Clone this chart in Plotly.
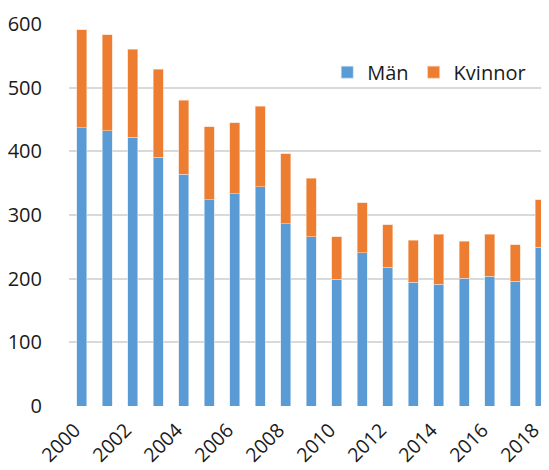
import plotly.graph_objects as go

years = [str(y) for y in range(2000, 2019)]
man = [437, 432, 422, 391, 364, 324, 333, 344, 286, 266, 199, 241, 218, 194, 191, 201, 204, 196, 249]
kvinnor = [154, 151, 138, 138, 116, 115, 112, 127, 110, 92, 67, 78, 67, 66, 79, 58, 66, 57, 75]
tick_years = [str(y) for y in range(2000, 2019, 2)]
y_ticks = [0, 100, 200, 300, 400, 500, 600]

fig = go.Figure()
fig.add_trace(go.Bar(x=years, y=man, name="Män", marker=dict(color="#5B9BD5", line=dict(color="#D6E6F5", width=0.6))))
fig.add_trace(go.Bar(x=years, y=kvinnor, name="Kvinnor", marker=dict(color="#ED7D31", line=dict(color="#F8D3BA", width=0.6))))

fig.update_layout(
    barmode="stack",
    bargap=0.6,
    width=541, height=462,
    margin=dict(l=61, r=0, t=16, b=64, autoexpand=False),
    plot_bgcolor="white", paper_bgcolor="white",
    font=dict(family="Open Sans", size=20, color="#1a1a1a"),
    showlegend=True,
    legend=dict(orientation="h", x=0.538, y=0.874, xanchor="left", yanchor="middle",
                font=dict(size=20), bgcolor="rgba(0,0,0,0)", itemwidth=30, traceorder="normal"),
    xaxis=dict(type="category", tickvals=tick_years, ticktext=tick_years, tickangle=-45,
               range=[-0.5, 18.33], ticks="", ticklabelstandoff=8, ticklabelshift=-7,
               tickfont=dict(size=19.5),
               showgrid=False, showline=False, zeroline=False, automargin=False),
    yaxis=dict(range=[0, 600], tickvals=y_ticks, showgrid=True, gridcolor="#D9D9D9", gridwidth=1.6,
               ticks="outside", ticklen=22, tickcolor="rgba(0,0,0,0)", zeroline=False, showline=False,
               automargin=False),
)
fig.write_html("out.html")
